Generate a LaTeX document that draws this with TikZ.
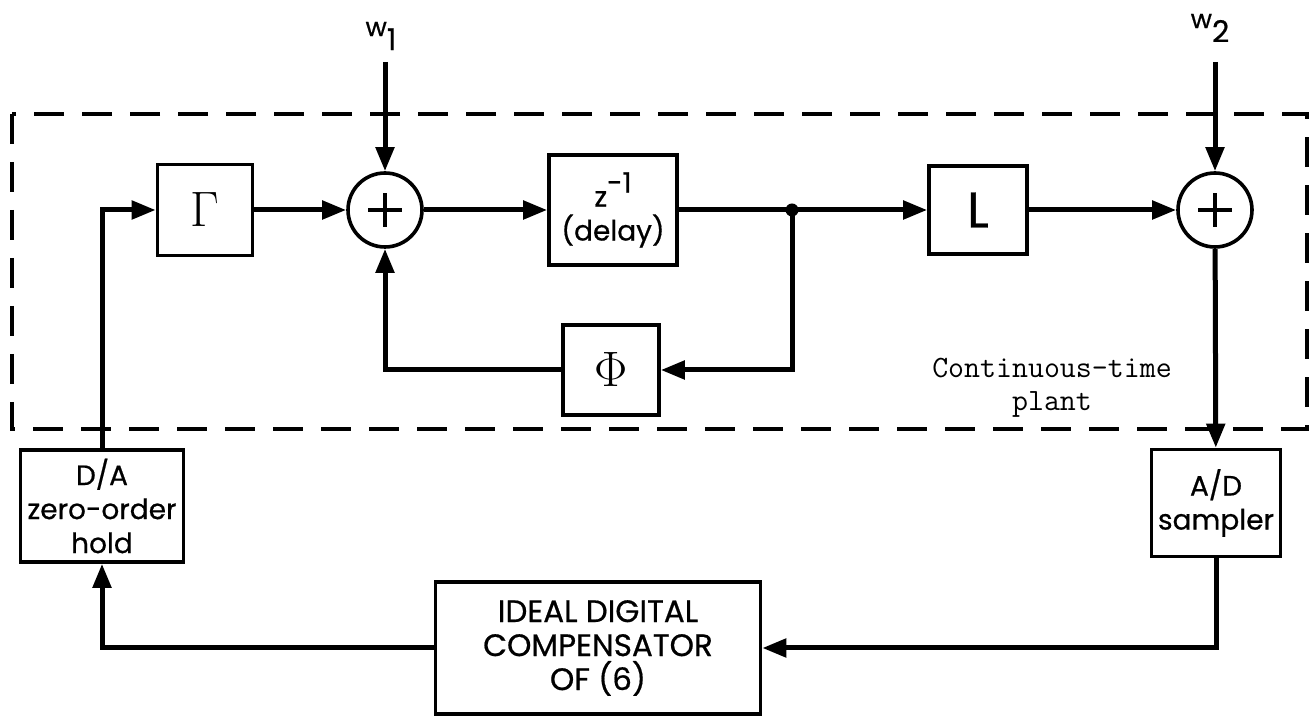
\documentclass[tikz,border=0pt]{standalone}
\usepackage{fontspec}
\newfontfamily\blockfont[FakeBold=0.6]{Poppins}
\usetikzlibrary{arrows.meta}

\begin{document}
\begin{tikzpicture}[x=0.5pt,y=-0.5pt,
  block/.style={draw,line width=1.8pt,inner sep=0pt,align=center,
    font=\blockfont\fontsize{14}{17}\selectfont},
  summer/.style={draw,circle,line width=1.8pt,minimum size=37pt,inner sep=0pt,
    path picture={\draw[line width=2.2pt]
      ([xshift=-8.5pt]path picture bounding box.center) -- ([xshift=8.5pt]path picture bounding box.center)
      ([yshift=-8.5pt]path picture bounding box.center) -- ([yshift=8.5pt]path picture bounding box.center);}},
  sig/.style={line width=2.5pt,-{Triangle[length=12pt,width=9pt]}},
  wire/.style={line width=2.5pt}]
 \useasboundingbox (0,0) rectangle (1313,716);

 % plant frame
 \draw [line width=2pt,dash pattern=on 15pt off 9pt] (12,114) rectangle (1307,429);
 \node [font=\ttfamily\fontsize{15.5}{16.5}\selectfont,align=center] (plantlbl) at (1052,388) {Continuous-time\\plant};

 % blocks
 \node [block,minimum width=47.5pt,minimum height=45.5pt] (gam) at (205,210) {\fontsize{27}{27}\selectfont$\Gamma$};
 \node [summer] (sumA) at (385,210) {};
 \node [block,minimum width=64pt,minimum height=55pt] (delay) at (613,210) {z\raisebox{7pt}{-1}\\(delay)};
 \node [circle,fill,inner sep=0pt,minimum size=6.5pt] (jn) at (792,210) {};
 \node [block,minimum width=48pt,minimum height=45pt] (phi) at (611,370) {\fontsize{27}{27}\selectfont$\Phi$};
 \node [block,minimum width=49pt,minimum height=44pt] (L) at (978,210) {\fontsize{25}{25}\selectfont L};
 \node [summer] (sumB) at (1215,210) {};
 \node [block,minimum width=64.5pt,minimum height=53.5pt] (AD) at (1216,503) {A/D\\sampler};
 \node [block,minimum width=81.5pt,minimum height=56pt] (DA) at (102,506) {D/A\\zero-order\\hold};
 \node [block,minimum width=162.5pt,minimum height=66pt,font=\blockfont\fontsize{15.5}{17}\selectfont] (comp) at (598,648) {IDEAL DIGITAL\\COMPENSATOR\\OF (6)};

 % noise inputs
 \node [font=\blockfont\fontsize{13}{15}\selectfont] (wa) at (381,36) {w\raisebox{-7pt}{\fontsize{15}{15}\selectfont 1}};
 \node [font=\blockfont\fontsize{13}{15}\selectfont] (wb) at (1210,28) {w\raisebox{-7pt}{\fontsize{15}{15}\selectfont 2}};
 \coordinate (wain) at (385,62);
 \coordinate (wbin) at (1215,62);

 % connectors
 \draw [sig] (DA.north) |- (gam.west);
 \draw [sig] (gam) -- (sumA);
 \draw [sig] (wain) -- (sumA);
 \draw [sig] (sumA) -- (delay);
 \draw [sig] (delay) -- (L);
 \draw [sig] (jn.center) |- (phi.east);
 \draw [sig] (phi.west) -| (sumA.south);
 \draw [sig] (L) -- (sumB);
 \draw [sig] (wbin) -- (sumB);
 \draw [sig] (sumB) -- (AD);
 \draw [sig] (AD.south) |- (comp.east);
 \draw [sig] (comp.west) -| (DA.south);
\end{tikzpicture}
\end{document}
